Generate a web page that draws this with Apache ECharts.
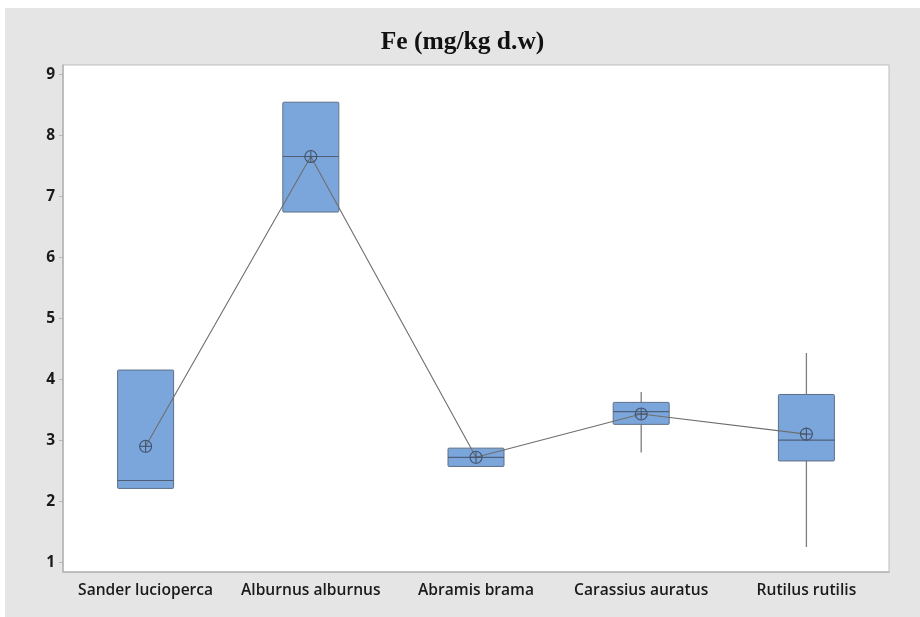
<!DOCTYPE html>
<html>
<head>
<meta charset="utf-8">
<script src="https://cdn.jsdelivr.net/npm/echarts@6/dist/echarts.min.js"></script>
<style>
  html, body { margin: 0; padding: 0; background: #ffffff; }
  #wrap { position: relative; width: 920px; height: 617px; background: #ffffff; }
  #chart { position: absolute; left: 5px; top: 8px; width: 915px; height: 609px; background: #e5e5e5; }
</style>
</head>
<body>
<div id="wrap"><div id="chart"></div></div>
<script>
// Fe concentration per species (mg/kg dry weight)
const species = ['Sander lucioperca', 'Alburnus alburnus', 'Abramis brama', 'Carassius auratus', 'Rutilus rutilis'];
const whiskerLow  = [2.21, 6.74, 2.57, 2.80, 1.25];
const q1          = [2.21, 6.74, 2.57, 3.26, 2.66];
const median      = [2.34, 7.65, 2.72, 3.47, 3.00];
const q3          = [4.15, 8.54, 2.87, 3.62, 3.75];
const whiskerHigh = [4.15, 8.54, 2.87, 3.79, 4.43];
const mean        = [2.90, 7.65, 2.72, 3.43, 3.10];
const yTicks = [1, 2, 3, 4, 5, 6, 7, 8, 9];

const boxData = species.map((s, i) => [i, whiskerLow[i], q1[i], median[i], q3[i], whiskerHigh[i]]);
const meanData = species.map((s, i) => [i, mean[i]]);

const BOX_W = 56;

// Box with whiskers (no end caps) drawn in data coordinates
function renderBox(params, api) {
  const i = api.value(0);
  const x = api.coord([i, api.value(3)])[0];
  const yLo = api.coord([i, api.value(1)])[1];
  const yQ1 = api.coord([i, api.value(2)])[1];
  const yMed = api.coord([i, api.value(3)])[1];
  const yQ3 = api.coord([i, api.value(4)])[1];
  const yHi = api.coord([i, api.value(5)])[1];
  const half = BOX_W / 2;
  const whisker = { stroke: '#7d7d7d', lineWidth: 1.3 };
  return {
    type: 'group',
    children: [
      { type: 'line', shape: { x1: x, y1: yQ3, x2: x, y2: yHi }, style: whisker },
      { type: 'line', shape: { x1: x, y1: yQ1, x2: x, y2: yLo }, style: whisker },
      { type: 'rect', shape: { x: x - half, y: yQ3, width: BOX_W, height: yQ1 - yQ3, r: 1 },
        style: { fill: '#7ba6dc', stroke: '#5e6f87', lineWidth: 1 } },
      { type: 'line', shape: { x1: x - half, y1: yMed, x2: x + half, y2: yMed },
        style: { stroke: '#4f5f78', lineWidth: 1.2 } }
    ]
  };
}

// Mean marker: circle with a cross
function renderMean(params, api) {
  const p = api.coord([api.value(0), api.value(1)]);
  const r = 6;
  const st = { stroke: '#44546c', lineWidth: 1.1, fill: null };
  return {
    type: 'group',
    children: [
      { type: 'circle', shape: { cx: p[0], cy: p[1], r: r }, style: { stroke: '#44546c', lineWidth: 1.1, fill: 'rgba(0,0,0,0)' } },
      { type: 'line', shape: { x1: p[0] - r, y1: p[1], x2: p[0] + r, y2: p[1] }, style: st },
      { type: 'line', shape: { x1: p[0], y1: p[1] - r, x2: p[0], y2: p[1] + r }, style: st }
    ]
  };
}

const chart = echarts.init(document.getElementById('chart'), null, { renderer: 'canvas' });
chart.setOption({
  animation: false,
  title: {
    text: 'Fe (mg/kg d.w)',
    left: 'center',
    top: 21,
    padding: 0,
    textStyle: { fontFamily: 'Liberation Serif', fontWeight: 'bold', fontSize: 25.5, color: '#111' }
  },
  grid: {
    left: 58, right: 31, top: 57, bottom: 45,
    show: true, backgroundColor: '#ffffff', borderColor: '#bdbdbd', borderWidth: 1
  },
  xAxis: {
    type: 'category',
    data: species,
    boundaryGap: true,
    axisLine: { lineStyle: { color: '#b5b5b5', width: 1.5 } },
    axisTick: { alignWithLabel: true, interval: 0, length: 4, lineStyle: { color: '#b5b5b5' } },
    axisLabel: { interval: 0, hideOverlap: false, margin: 11, fontFamily: 'Open Sans', fontWeight: 600, fontSize: 15.6, color: '#1a1a1a' },
    splitLine: { show: false }
  },
  yAxis: {
    type: 'value',
    min: 0.84,
    max: 9.15,
    axisLine: { show: true, lineStyle: { color: '#b5b5b5', width: 1.5 } },
    axisTick: { show: true, length: 4, customValues: yTicks, lineStyle: { color: '#b5b5b5' } },
    axisLabel: { customValues: yTicks, margin: 8, fontFamily: 'Open Sans', fontWeight: 700, fontSize: 15.5, color: '#1a1a1a' },
    splitLine: { show: false }
  },
  series: [
    { type: 'custom', renderItem: renderBox, data: boxData, z: 2, encode: { x: 0, y: [1, 2, 3, 4, 5] } },
    { type: 'line', data: meanData, symbol: 'none', z: 3,
      lineStyle: { color: '#6e6e6e', width: 1.1 } },
    { type: 'custom', renderItem: renderMean, data: meanData, z: 4, encode: { x: 0, y: 1 } }
  ]
});
</script>
</body>
</html>
